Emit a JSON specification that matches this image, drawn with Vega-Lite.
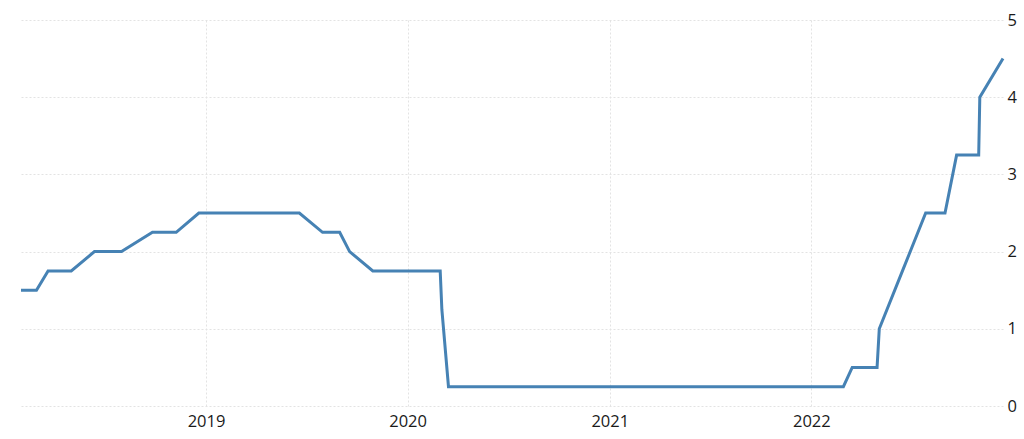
{
  "$schema": "https://vega.github.io/schema/vega-lite/v6.json",
  "autosize": {"type": "none"},
  "padding": {"left": 21, "top": 20, "right": 21, "bottom": 33},
  "width": 982,
  "height": 386,
  "background": "white",
  "config": {
    "view": {"stroke": null},
    "font": "Open Sans",
    "axis": {"labelFont": "Open Sans", "labelColor": "#1a1a1a", "labelFontSize": 16.5}
  },
  "data": {
    "values": [
      {"date": "2018-01-31", "rate": 1.5},
      {"date": "2018-02-28", "rate": 1.5},
      {"date": "2018-03-21", "rate": 1.75},
      {"date": "2018-05-02", "rate": 1.75},
      {"date": "2018-06-13", "rate": 2.0},
      {"date": "2018-08-01", "rate": 2.0},
      {"date": "2018-09-26", "rate": 2.25},
      {"date": "2018-11-08", "rate": 2.25},
      {"date": "2018-12-19", "rate": 2.5},
      {"date": "2019-01-30", "rate": 2.5},
      {"date": "2019-03-20", "rate": 2.5},
      {"date": "2019-05-01", "rate": 2.5},
      {"date": "2019-06-19", "rate": 2.5},
      {"date": "2019-07-31", "rate": 2.25},
      {"date": "2019-08-31", "rate": 2.25},
      {"date": "2019-09-18", "rate": 2.0},
      {"date": "2019-10-30", "rate": 1.75},
      {"date": "2019-12-11", "rate": 1.75},
      {"date": "2020-01-29", "rate": 1.75},
      {"date": "2020-02-29", "rate": 1.75},
      {"date": "2020-03-03", "rate": 1.25},
      {"date": "2020-03-15", "rate": 0.25},
      {"date": "2020-04-29", "rate": 0.25},
      {"date": "2020-06-10", "rate": 0.25},
      {"date": "2020-07-29", "rate": 0.25},
      {"date": "2020-09-16", "rate": 0.25},
      {"date": "2020-11-05", "rate": 0.25},
      {"date": "2020-12-16", "rate": 0.25},
      {"date": "2021-01-27", "rate": 0.25},
      {"date": "2021-03-17", "rate": 0.25},
      {"date": "2021-04-28", "rate": 0.25},
      {"date": "2021-06-16", "rate": 0.25},
      {"date": "2021-07-28", "rate": 0.25},
      {"date": "2021-09-22", "rate": 0.25},
      {"date": "2021-11-03", "rate": 0.25},
      {"date": "2021-12-15", "rate": 0.25},
      {"date": "2022-01-26", "rate": 0.25},
      {"date": "2022-02-28", "rate": 0.25},
      {"date": "2022-03-16", "rate": 0.5},
      {"date": "2022-04-30", "rate": 0.5},
      {"date": "2022-05-04", "rate": 1.0},
      {"date": "2022-06-15", "rate": 1.75},
      {"date": "2022-07-27", "rate": 2.5},
      {"date": "2022-08-31", "rate": 2.5},
      {"date": "2022-09-21", "rate": 3.25},
      {"date": "2022-10-31", "rate": 3.25},
      {"date": "2022-11-02", "rate": 4.0},
      {"date": "2022-12-14", "rate": 4.5}
    ]
  },
  "mark": {"type": "line", "color": "#4682b4", "strokeWidth": 3, "strokeJoin": "miter"},
  "encoding": {
    "x": {
      "field": "date",
      "type": "temporal",
      "scale": {
        "type": "utc",
        "domain": [
          {"year": 2018, "month": 1, "date": 31, "utc": true},
          {"year": 2022, "month": 12, "date": 14, "utc": true}
        ]
      },
      "axis": {
        "title": null,
        "values": [
          {"year": 2019, "month": 1, "date": 1, "utc": true},
          {"year": 2020, "month": 1, "date": 1, "utc": true},
          {"year": 2021, "month": 1, "date": 1, "utc": true},
          {"year": 2022, "month": 1, "date": 1, "utc": true}
        ],
        "format": "%Y",
        "domain": false,
        "ticks": false,
        "labelPadding": 7,
        "grid": true,
        "gridColor": "#e3e3e3",
        "gridDash": [2, 2],
        "gridWidth": 1
      }
    },
    "y": {
      "field": "rate",
      "type": "quantitative",
      "scale": {"domain": [0, 5], "nice": false, "zero": true},
      "axis": {
        "title": null,
        "orient": "right",
        "values": [0, 1, 2, 3, 4, 5],
        "domain": false,
        "ticks": false,
        "labelPadding": 4,
        "labelAlign": "left",
        "grid": true,
        "gridColor": "#e3e3e3",
        "gridDash": [2, 2],
        "gridWidth": 1
      }
    }
  }
}
